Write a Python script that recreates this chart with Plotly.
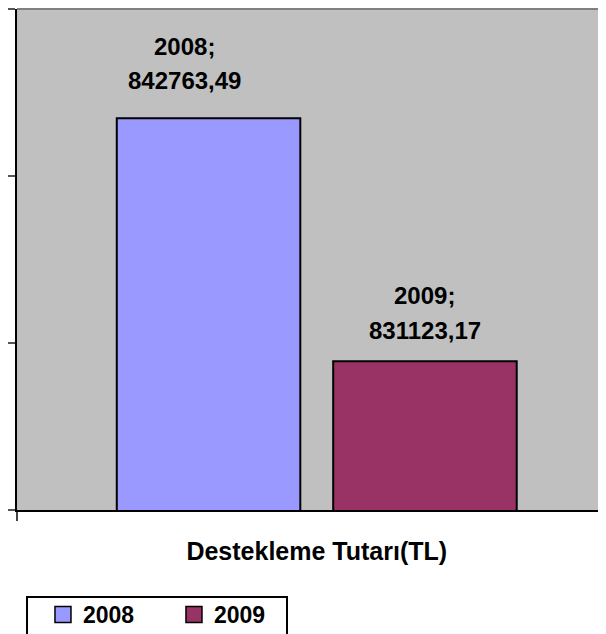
import plotly.graph_objects as go

# ---- data ----
category = ["Destekleme Tutarı(TL)"]
series_names = ["2008", "2009"]
series_values = [842763.49, 831123.17]
y_ticks = [824000, 832000, 840000, 848000]

# ---- style ----
colors = ["#9999FF", "#993366"]
FONT = "Liberation Sans, Arial, sans-serif"
label_xshift = [-132, 108]   # label offset from group centre (px)
label_yshift_top = [72, 66]   # first line centre above bar top (px)
label_yshift_bot = [38, 31]   # second line centre above bar top (px)

fig = go.Figure()

for name, val, col in zip(series_names, series_values, colors):
    fig.add_trace(go.Bar(
        x=category, y=[val], name=name,
        marker=dict(color=col, line=dict(color="black", width=2)),
        showlegend=False,
    ))

# legend entries (square swatches)
for name, col in zip(series_names, colors):
    fig.add_trace(go.Scatter(
        x=[None], y=[None], mode="markers", name=name,
        marker=dict(symbol="square", size=16, color=col,
                    line=dict(color="black", width=1.5)),
    ))

# data labels
for i, (name, val) in enumerate(zip(series_names, series_values)):
    txt = f"{val:.2f}".replace(".", ",")
    fig.add_annotation(x=category[0], y=val, text=f"<b>{name};</b>",
                       showarrow=False, xshift=label_xshift[i],
                       yshift=label_yshift_top[i], yanchor="middle",
                       font=dict(size=24, color="black", family=FONT))
    fig.add_annotation(x=category[0], y=val, text=f"<b>{txt}</b>",
                       showarrow=False, xshift=label_xshift[i],
                       yshift=label_yshift_bot[i], yanchor="middle",
                       font=dict(size=24, color="black", family=FONT))

# top border of plot area
fig.add_shape(type="line", xref="paper", yref="paper", x0=0, x1=1, y0=1, y1=1,
              line=dict(color="#808080", width=2))
# legend frame
fig.add_shape(type="rect", xref="paper", yref="paper",
              x0=0.017, x1=0.4584, y0=-0.2595, y1=-0.1737,
              line=dict(color="black", width=2), fillcolor="rgba(0,0,0,0)")

fig.update_layout(
    width=598, height=626,
    margin=dict(l=9, r=0, t=1, b=124, autoexpand=False),
    paper_bgcolor="white", plot_bgcolor="#C0C0C0",
    barmode="group", bargap=0.278, bargroupgap=0.152,
    font=dict(family=FONT, color="black"),
    showlegend=True,
    legend=dict(orientation="h", x=0.0441, xanchor="left", y=-0.1657, yanchor="top",
                borderwidth=0, bgcolor="rgba(0,0,0,0)",
                font=dict(size=23, family=FONT, color="black", weight="bold"),
                entrywidth=86, entrywidthmode="pixels", traceorder="normal"),
    xaxis=dict(type="category", range=[-0.5, 0.4825], showline=True,
               linecolor="black", linewidth=2, ticks="outside", tickson="boundaries",
               ticklen=9, tickcolor="#444", tickwidth=1.5, showgrid=False,
               tickfont=dict(size=25, family=FONT, color="black", weight="bold"),
               ticklabelstandoff=18, fixedrange=True),
    yaxis=dict(range=[y_ticks[0], y_ticks[-1]], tickvals=y_ticks, showticklabels=False,
               ticks="outside", ticklen=9, tickcolor="#555", tickwidth=1.5,
               showline=True, linecolor="black", linewidth=2, showgrid=False,
               zeroline=False, fixedrange=True),
)

fig.write_html("out.html")
